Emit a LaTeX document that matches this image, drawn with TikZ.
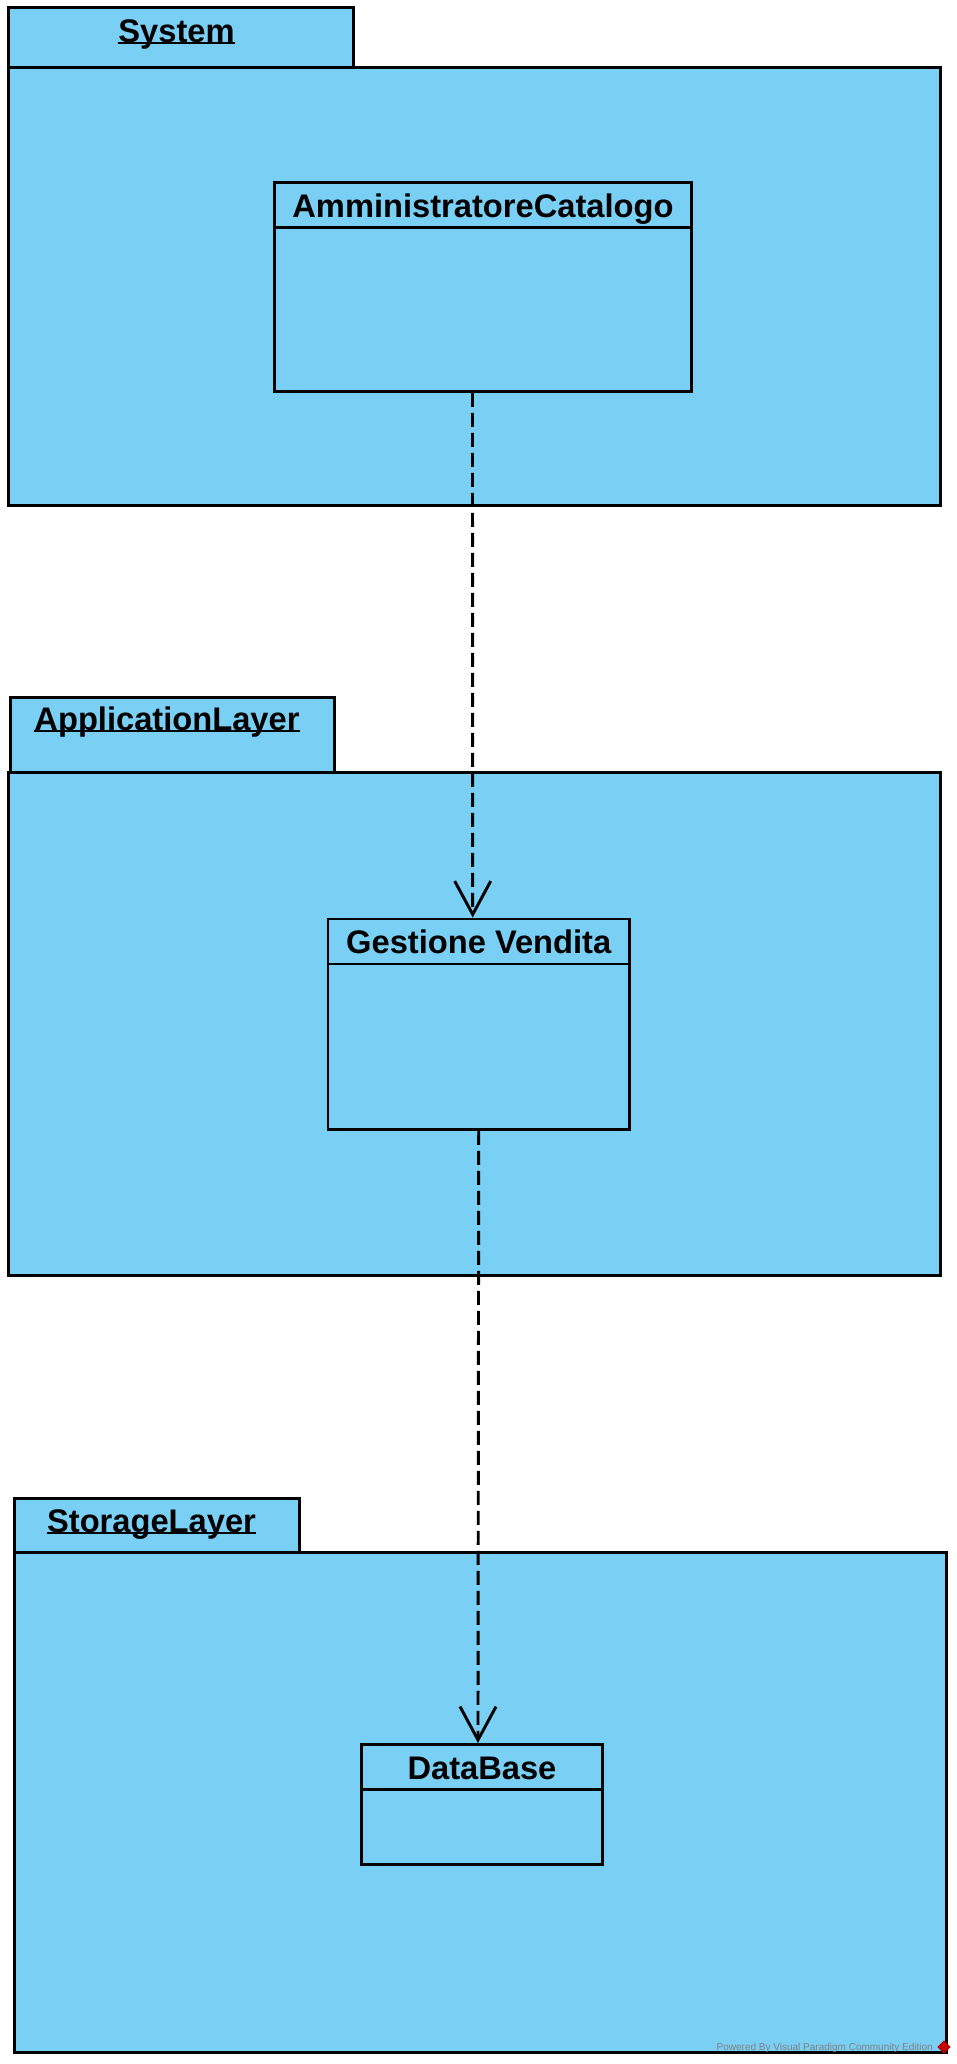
\documentclass[tikz,border=0pt]{standalone}
\usepackage{fontspec}
\setmainfont{Liberation Sans}
\usetikzlibrary{arrows.meta,positioning}
\definecolor{pkgblue}{RGB}{122,207,245}

\tikzset{
	pkgtab/.style={rectangle,draw,fill=pkgblue,line width=2.2pt,anchor=north west,inner sep=0pt},
	pkgbody/.style={rectangle,draw,fill=pkgblue,line width=2.2pt,anchor=north west,inner sep=0pt},
	pkgname/.style={font=\bfseries\fontsize{24.5}{28}\selectfont,anchor=base,inner sep=0pt},
	classbox/.style={rectangle,draw,line width=2.2pt,anchor=north west,inner sep=0pt},
	classhead/.style={rectangle,draw,line width=2.2pt,anchor=north,inner sep=0pt,
		minimum height=33.75pt,text height=18.75pt,text depth=0pt,
		font=\bfseries\fontsize{24.5}{28}\selectfont},
	depend/.style={line width=2.2pt,dash pattern=on 10.5pt off 4.5pt,
		-{Straight Barb[length=25pt,width=27pt]}},
	vpnote/.style={font=\fontsize{7.5}{9}\selectfont,text=gray,anchor=base east,inner sep=0pt}
}

\begin{document}
\begin{tikzpicture}[x=0.75pt,y=-0.75pt]
\useasboundingbox (0,0) rectangle (957,2064);

% packages
\node[pkgtab,minimum width=258.75pt,minimum height=45pt] (systab) at (7,6) {};
\node[pkgbody,minimum width=699pt,minimum height=328.5pt] (sysbody) at (7,66) {};
\node[pkgname] (sysname) at (176.5,42) {System};

\node[pkgtab,minimum width=243pt,minimum height=56.25pt] (apptab) at (9,696) {};
\node[pkgbody,minimum width=699pt,minimum height=377.25pt] (appbody) at (7,771) {};
\node[pkgname] (appname) at (167,730) {ApplicationLayer};

\node[pkgtab,minimum width=213.75pt,minimum height=40.5pt] (stotab) at (13,1497) {};
\node[pkgbody,minimum width=699pt,minimum height=375pt] (stobody) at (13,1551) {};
\node[pkgname] (stoname) at (151.5,1532) {StorageLayer};

\foreach \n in {sysname,appname,stoname}
	\draw[line width=2pt] ([yshift=-0.8pt]\n.base west) -- ([yshift=-0.8pt]\n.base east);

% classes
\node[classbox,minimum width=312.75pt,minimum height=156.75pt] (amm) at (273,181) {};
\node[classhead,minimum width=312.75pt] (ammhead) at (amm.north) {AmministratoreCatalogo};

\node[classbox,minimum width=226.125pt,minimum height=157.875pt] (gest) at (326.5,917.5) {};
\node[classhead,minimum width=226.125pt] (gesthead) at (gest.north) {Gestione Vendita};

\node[classbox,minimum width=180.75pt,minimum height=90pt] (db) at (360,1743) {};
\node[classhead,minimum width=180.75pt] (dbhead) at (db.north) {DataBase};

% dependencies
\draw[depend] ([xshift=-7.875pt]amm.south) -- ([xshift=-4.5pt]gest.north);
\draw[depend] (gest.south) -- ([xshift=-3pt]db.north);

% watermark
\node[vpnote] (vpnote) at (933,2050) {Powered By Visual Paradigm Community Edition};
\node[fill=red!75!black,rotate=45,minimum size=7pt,inner sep=0pt] (vplogo) at (944,2047) {};
\end{tikzpicture}
\end{document}
